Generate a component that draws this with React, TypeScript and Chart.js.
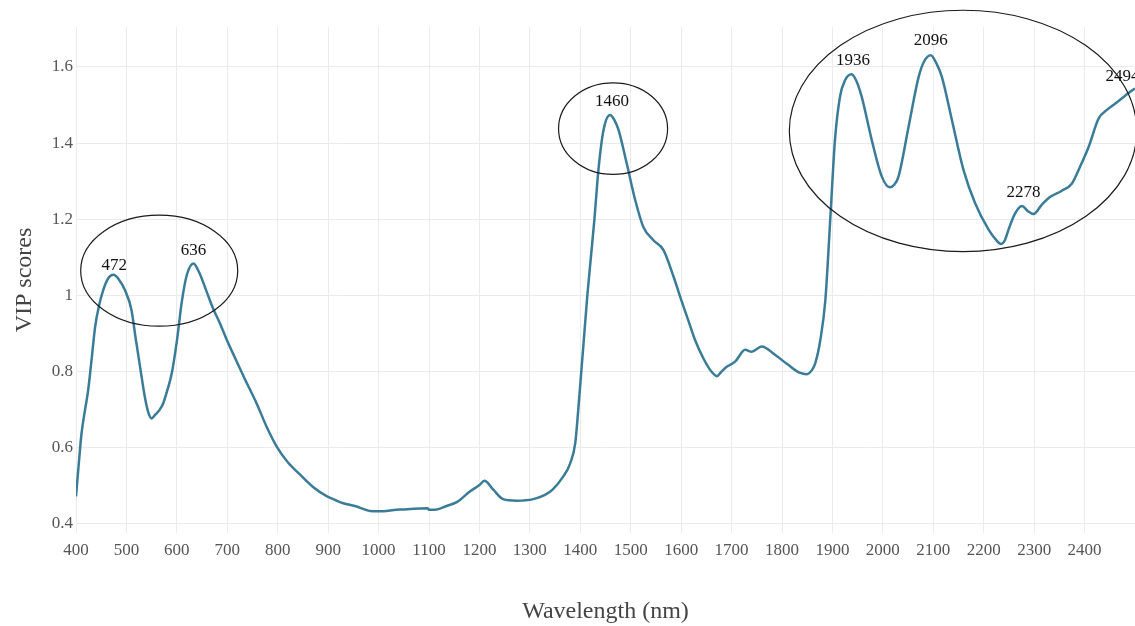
import { useEffect, useRef } from "react";
import { Chart, registerables } from "chart.js";

Chart.register(...registerables);

// ---- data ----
const wavelengths = [
  400, 405, 411, 418, 424, 430, 438, 446, 454, 464, 474, 485, 497, 510, 518, 527, 537, 544, 550, 558,
  566, 573, 582, 590, 600, 610, 620, 633, 645, 659, 672, 686, 700, 715, 735, 758, 778, 798, 820, 844,
  870, 897, 915, 930, 953, 983, 1000, 1036, 1069, 1097, 1100, 1112, 1135, 1155, 1181, 1200, 1210, 1228,
  1247, 1274, 1307, 1330, 1345, 1366, 1380, 1390, 1396, 1402, 1408, 1414, 1421, 1428, 1436, 1446, 1459, 1468,
  1476, 1492, 1509, 1525, 1545, 1565, 1585, 1601, 1614, 1627, 1644, 1660, 1671, 1680, 1691, 1707, 1727,
  1740, 1760, 1786, 1813, 1835, 1849, 1860, 1866, 1876, 1886, 1896, 1905, 1915, 1925, 1938, 1948, 1958,
  1978, 1998, 2014, 2022, 2031, 2051, 2071, 2082, 2095, 2106, 2117, 2137, 2160, 2183, 2210, 2225, 2234,
  2242, 2249, 2262, 2276, 2287, 2299, 2315, 2332, 2355, 2375, 2391, 2408, 2428, 2445, 2461, 2480, 2497, 2500,
];
const vipScores = [
  0.472, 0.55, 0.638, 0.7, 0.75, 0.82, 0.918, 0.975, 1.014, 1.045, 1.054, 1.042, 1.014, 0.962, 0.89, 0.813, 0.73, 0.69, 0.677, 0.688,
  0.7, 0.717, 0.755, 0.796, 0.88, 0.985, 1.055, 1.084, 1.058, 1.01, 0.965, 0.925, 0.88, 0.837, 0.78, 0.717, 0.655, 0.603, 0.562, 0.53,
  0.497, 0.473, 0.462, 0.454, 0.447, 0.434, 0.433, 0.437, 0.44, 0.441, 0.437, 0.437, 0.447, 0.457, 0.485, 0.502, 0.513, 0.489,
  0.465, 0.461, 0.465, 0.476, 0.49, 0.524, 0.559, 0.612, 0.7, 0.8, 0.9, 1.0, 1.1, 1.2, 1.33, 1.434, 1.474, 1.46,
  1.434, 1.347, 1.25, 1.18, 1.145, 1.119, 1.049, 0.985, 0.935, 0.885, 0.835, 0.8, 0.788, 0.8, 0.813, 0.826, 0.857,
  0.852, 0.866, 0.844, 0.817, 0.797, 0.793, 0.805, 0.822, 0.883, 0.988, 1.207, 1.408, 1.522, 1.565, 1.581, 1.562, 1.522,
  1.408, 1.312, 1.284, 1.29, 1.312, 1.443, 1.574, 1.615, 1.631, 1.61, 1.574, 1.46, 1.329, 1.242, 1.172, 1.145, 1.135,
  1.145, 1.172, 1.215, 1.235, 1.222, 1.214, 1.238, 1.259, 1.275, 1.294, 1.338, 1.39, 1.465, 1.488, 1.504, 1.524, 1.541, 1.543,
];

const xTickValues = [400, 500, 600, 700, 800, 900, 1000, 1100, 1200, 1300, 1400, 1500, 1600, 1700, 1800, 1900, 2000, 2100, 2200, 2300, 2400];
const yTickValues = [0.4, 0.6, 0.8, 1.0, 1.2, 1.4, 1.6];

// peak annotations (text centre, in data units)
const peakLabels = ["472", "636", "1460", "1936", "2096", "2278", "2494"];
const peakLabelX = [476, 633, 1463, 1941, 2095, 2279, 2475];
const peakLabelY = [1.078, 1.117, 1.508, 1.618, 1.669, 1.27, 1.576];

// circled regions (centre and radii, in data units)
const ellipseCenterX = [565, 1465, 2159];
const ellipseCenterY = [1.065, 1.438, 1.432];
const ellipseRadiusX = [155.7, 108.1, 344.5];
const ellipseRadiusY = [0.1457, 0.1203, 0.317];

const SERIF = '"Liberation Serif", "DejaVu Serif", serif';

const annotationPlugin = {
  id: "peakAnnotations",
  afterDatasetsDraw(chart: any) {
    const { ctx } = chart;
    const xs = chart.scales.x;
    const ys = chart.scales.y;
    ctx.save();
    ctx.strokeStyle = "#1a1a1a";
    ctx.lineWidth = 1.2;
    for (let i = 0; i < ellipseCenterX.length; i++) {
      const cx = xs.getPixelForValue(ellipseCenterX[i]);
      const cy = ys.getPixelForValue(ellipseCenterY[i]);
      const rx = Math.abs(xs.getPixelForValue(ellipseCenterX[i] + ellipseRadiusX[i]) - cx);
      const ry = Math.abs(ys.getPixelForValue(ellipseCenterY[i] + ellipseRadiusY[i]) - cy);
      ctx.beginPath();
      ctx.ellipse(cx, cy, rx, ry, 0, 0, Math.PI * 2);
      ctx.stroke();
    }
    ctx.fillStyle = "#111";
    ctx.font = `17px ${SERIF}`;
    ctx.textAlign = "center";
    ctx.textBaseline = "middle";
    for (let i = 0; i < peakLabels.length; i++) {
      ctx.fillText(peakLabels[i], xs.getPixelForValue(peakLabelX[i]), ys.getPixelForValue(peakLabelY[i]));
    }
    ctx.restore();
  },
};

export default function App() {
  const canvasRef = useRef<HTMLCanvasElement | null>(null);

  useEffect(() => {
    if (!canvasRef.current) return;
    const chart = new Chart(canvasRef.current, {
      type: "line",
      data: {
        datasets: [
          {
            data: wavelengths.map((w, i) => ({ x: w, y: vipScores[i] })),
            borderColor: "#3a7c98",
            borderWidth: 2.5,
            pointRadius: 0,
            fill: false,
            cubicInterpolationMode: "monotone",
          },
        ],
      },
      options: {
        animation: false,
        responsive: true,
        maintainAspectRatio: false,
        layout: { padding: { top: 27, left: 0, right: 0, bottom: 0 } },
        plugins: { legend: { display: false }, tooltip: { enabled: false } },
        scales: {
          x: {
            type: "linear",
            min: 400,
            max: 2500,
            afterBuildTicks: (s: any) => {
              s.ticks = xTickValues.map((v) => ({ value: v }));
            },
            afterFit: (s: any) => {
              s.height = 93;
            },
            grid: { color: "#ebebeb", lineWidth: 1, drawTicks: false },
            border: { display: false },
            ticks: {
              autoSkip: false,
              maxRotation: 0,
              padding: 7,
              color: "#555",
              font: { family: SERIF, size: 17 },
              callback: (v: any) => String(v),
            },
            title: {
              display: true,
              text: "Wavelength (nm)",
              color: "#444",
              font: { family: SERIF, size: 24 },
              padding: { top: 0, bottom: 0 },
            },
          },
          y: {
            type: "linear",
            min: 0.376,
            max: 1.705,
            afterBuildTicks: (s: any) => {
              s.ticks = yTickValues.map((v) => ({ value: v }));
            },
            afterFit: (s: any) => {
              s.width = 76;
            },
            grid: { color: "#ebebeb", lineWidth: 1, drawTicks: false },
            border: { display: false },
            ticks: {
              padding: 3,
              color: "#555",
              font: { family: SERIF, size: 17 },
              callback: (v: any) => String(Math.round(Number(v) * 10) / 10),
            },
            title: {
              display: true,
              text: "VIP scores",
              color: "#444",
              font: { family: SERIF, size: 24 },
              padding: { top: 10, bottom: 0 },
            },
          },
        },
      },
      plugins: [annotationPlugin],
    });
    return () => chart.destroy();
  }, []);

  return (
    <div style={{ position: "fixed", left: 0, top: 0, width: 1135, height: 626, overflow: "hidden", background: "#fff" }}>
      <canvas ref={canvasRef} />
    </div>
  );
}
